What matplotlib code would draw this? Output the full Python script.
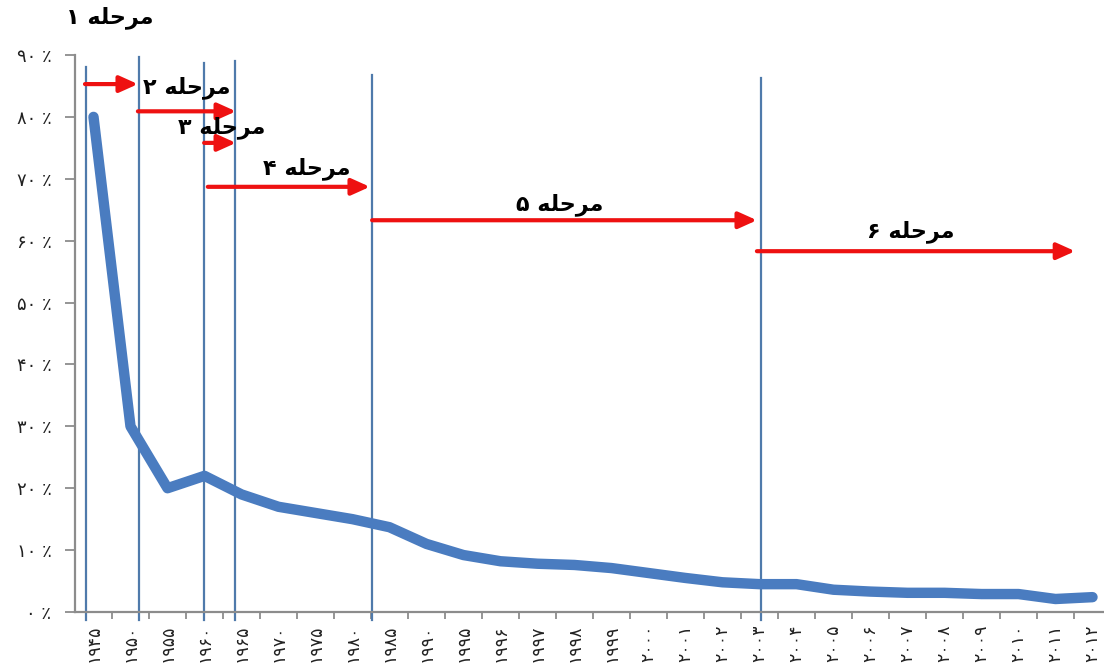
import matplotlib.pyplot as plt
import numpy as np

FIGSIZE = (11.04, 6.66)

# years in Persian digits, one per category
years = ["۱۹۴۵", "۱۹۵۰", "۱۹۵۵", "۱۹۶۰", "۱۹۶۵", "۱۹۷۰", "۱۹۷۵", "۱۹۸۰", "۱۹۸۵", "۱۹۹۰",
         "۱۹۹۵", "۱۹۹۶", "۱۹۹۷", "۱۹۹۸", "۱۹۹۹", "۲۰۰۰", "۲۰۰۱", "۲۰۰۲", "۲۰۰۳", "۲۰۰۴",
         "۲۰۰۵", "۲۰۰۶", "۲۰۰۷", "۲۰۰۸", "۲۰۰۹", "۲۰۱۰", "۲۰۱۱", "۲۰۱۲"]
values = [80, 30, 20, 22, 19, 17, 16, 15, 13.7, 11,
          9.2, 8.2, 7.8, 7.6, 7.1, 6.3, 5.5, 4.8, 4.5, 4.5,
          3.6, 3.3, 3.1, 3.1, 2.9, 2.9, 2.1, 2.4]
y_ticks = [0, 10, 20, 30, 40, 50, 60, 70, 80, 90]
y_labels = ["۰ ٪", "۱۰ ٪", "۲۰ ٪", "۳۰ ٪", "۴۰ ٪", "۵۰ ٪", "۶۰ ٪", "۷۰ ٪", "۸۰ ٪", "۹۰ ٪"]

# stage boundaries (category position, top of the line in %)
stage_lines = [(-0.2, 88), (1.23, 89.7), (2.99, 88.7), (3.82, 89), (7.53, 86.8), (18.04, 86.3)]
# stage arrows (start, end, level in %)
stage_arrows = [(-0.23, 1.2, 85.3), (1.2, 3.85, 80.9), (2.99, 3.85, 75.8),
                (3.09, 7.47, 68.7), (7.53, 17.93, 63.3), (17.93, 26.53, 58.3)]
# stage labels (x, y, digit)
stage_labels = [(0.45, 96, "۱"), (2.53, 84.7, "۲"), (3.47, 78.2, "۳"),
                (5.77, 71.7, "۴"), (12.6, 65.8, "۵"), (22.1, 61.4, "۶")]

# "مرحله" in presentation forms, visual order (matplotlib does no shaping)
WORD = "\uFEEA\uFEE0\uFEA3\uFEAE\uFEE3"

if __name__ == '__main__':
    plt.rcParams['font.family'] = ['DejaVu Sans']
    figure = plt.figure(figsize=FIGSIZE, dpi=100)
    axis = figure.add_axes([75 / 1104, 54 / 666, 1036 / 1104, 557 / 666])

    x = np.arange(len(years))

    for pos, top in stage_lines:
        axis.plot([pos, pos], [-1.3, top], color="#4f7aab", lw=1.6, clip_on=False, zorder=2)

    axis.plot(x, values, color="#4a7cc0", lw=7.5, solid_capstyle="round",
              solid_joinstyle="round", zorder=3, clip_on=False)

    for x0, x1, lev in stage_arrows:
        axis.annotate("", xy=(x1, lev), xytext=(x0, lev),
                      arrowprops=dict(arrowstyle="-|>,head_length=1.0,head_width=0.45",
                                      color="#ee1111", lw=3, shrinkA=0, shrinkB=0,
                                      mutation_scale=11), zorder=4)

    for lx, ly, digit in stage_labels:
        axis.text(lx, ly, digit + " " + WORD, ha="center", va="center",
                  fontsize=16, fontweight="bold", color="black", clip_on=False, zorder=5)

    axis.set_xlim(-0.5, len(years) - 0.5)
    axis.set_ylim(0, 90)
    axis.set_xticks(x)
    axis.set_xticklabels(years, rotation=90, fontsize=12.5, color="#222222")
    axis.set_xticks(np.arange(len(years)) + 0.5, minor=True)
    axis.tick_params(axis="x", which="major", length=0, pad=9)
    axis.tick_params(axis="x", which="minor", length=5, width=1.3, color="#8c8c8c")
    axis.set_yticks(y_ticks)
    axis.set_yticklabels(y_labels, fontsize=13, color="#222222")
    axis.tick_params(axis="y", length=7, width=1.3, color="#8c8c8c", pad=10)

    for side in ["top", "right"]:
        axis.spines[side].set_visible(False)
    for side in ["left", "bottom"]:
        axis.spines[side].set_color("#8c8c8c")
        axis.spines[side].set_linewidth(1.6)

    figure.savefig("out.png", dpi=100)
